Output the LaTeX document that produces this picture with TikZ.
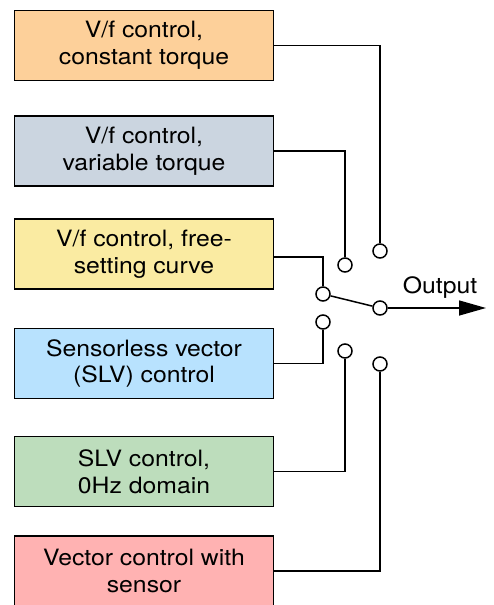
\documentclass[tikz,border=0pt]{standalone}
\usepackage{fontspec}
\setmainfont[FakeStretch=1.1]{TeX Gyre Heros}
\usetikzlibrary{arrows.meta, positioning, calc}
\definecolor{ModeOrange}{HTML}{FDD09A}
\definecolor{ModeGrey}{HTML}{CBD5E0}
\definecolor{ModeYellow}{HTML}{FAEBA2}
\definecolor{ModeBlue}{HTML}{B8E2FE}
\definecolor{ModeGreen}{HTML}{BDDDBC}
\definecolor{ModeRose}{HTML}{FFB2B2}

\begin{document}
\begin{tikzpicture}[
    x=1pt, y=-1pt,
    font=\fontsize{22.5}{26.7}\selectfont,
    modebox/.style={
      draw=black,
      line width=1.5pt,
      minimum width=259pt,
      minimum height=70pt,
      inner sep=0pt,
      align=center,
    },
    contact/.style={
      circle,
      draw=black,
      line width=1.5pt,
      fill=white,
      minimum size=14pt,
      inner sep=0pt,
    },
    wire/.style={line width=1.5pt},
  ]
    \useasboundingbox (0,0) rectangle (494,605);
    % operating modes
    \node[modebox, fill=ModeOrange] (vfconst) at (144,45.5) {V/f control,\\constant torque};
    \node[modebox, fill=ModeGrey] (vfvar) at (144,151) {V/f control,\\variable torque};
    \node[modebox, fill=ModeYellow] (vffree) at (144,254) {V/f control, free-\\setting curve};
    \node[modebox, fill=ModeBlue] (slv) at (144,363.5) {Sensorless vector\\(SLV) control};
    \node[modebox, fill=ModeGreen] (slvzero) at (144,471.5) {SLV control,\\0Hz domain};
    \node[modebox, fill=ModeRose] (vecsens) at (144,571) {Vector control with\\sensor};
    % switch contacts
    \node[contact] (cvfconst) at (380,251) {};
    \node[contact] (cvfvar) at (345,265) {};
    \node[contact] (cvffree) at (323,294) {};
    \node[contact] (cslv) at (323,322) {};
    \node[contact] (cslvzero) at (345,351) {};
    \node[contact] (cvecsens) at (380,364) {};
    \node[contact] (cout) at (380,308) {};
    \coordinate (tip) at (486,308);
    \node (output) at (440,288) {Output};
    % wiring
    \draw[wire] (vfconst.east) -| (cvfconst);
    \draw[wire] (vfvar.east) -| (cvfvar);
    \draw[wire] ([yshift=-3pt]vffree.east) -| (cvffree);
    \draw[wire] (slv.east) -| (cslv);
    \draw[wire] (slvzero.east) -| (cslvzero);
    \draw[wire] (vecsens.east) -| (cvecsens);
    \draw[wire] (cvffree) -- (cout);
    \draw[wire, -{Triangle[length=27pt, width=15pt]}] (cout) -- (tip);
  \end{tikzpicture}
\end{document}
